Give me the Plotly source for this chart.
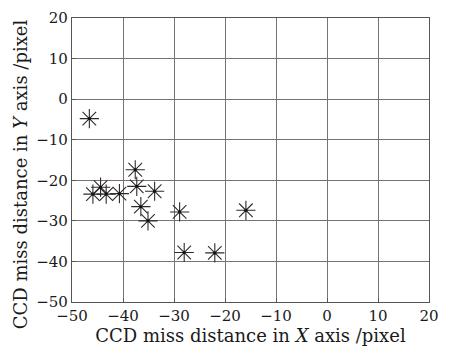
import plotly.graph_objects as go

x_vals = [-46.6, -45.9, -44.4, -43.3, -40.7, -37.6, -37.3, -36.5, -35.1, -33.8, -28.9, -28.0, -22.0, -15.9]
y_vals = [-4.8, -23.4, -21.7, -23.4, -23.3, -17.4, -21.5, -26.5, -30.0, -22.7, -27.8, -37.8, -37.9, -27.4]
tick_vals = [-50, -40, -30, -20, -10, 0, 10, 20]
tick_text = ["\u221250", "\u221240", "\u221230", "\u221220", "\u221210", "0", "10", "20"]
x_title = "CCD miss distance in <i>X</i> axis /pixel"
y_title = "CCD miss distance in <i>Y</i> axis /pixel"

font_family = "DejaVu Serif, Liberation Serif, serif"

fig = go.Figure()
fig.add_trace(go.Scatter(
    x=x_vals, y=y_vals, mode="markers",
    marker=dict(symbol="asterisk-open", size=16, color="#2e2a2a",
                line=dict(color="#2e2a2a", width=1.1)),
    showlegend=False, hoverinfo="x+y"))
fig.add_trace(go.Scatter(
    x=x_vals, y=y_vals, mode="markers",
    marker=dict(symbol="circle", size=3, color="#111111"),
    showlegend=False, hoverinfo="skip"))

axis_common = dict(
    range=[-50, 20], tickvals=tick_vals, ticktext=tick_text,
    showgrid=True, gridcolor="#7a7272", gridwidth=1.2,
    showline=True, linecolor="#5a5454", linewidth=1.2, mirror=True,
    ticks="inside", ticklen=4, tickcolor="#5a5454",
    zeroline=False, automargin=False, ticklabeloverflow="allow",
    tickfont=dict(family=font_family, size=15, color="#1a1a1a"),
)

fig.update_layout(
    width=455, height=353,
    margin=dict(l=64, r=34, t=10, b=59),
    paper_bgcolor="white", plot_bgcolor="white",
    xaxis=dict(**axis_common,
               title=dict(text=x_title,
                          font=dict(family=font_family, size=18, color="#1a1a1a"),
                          standoff=0)),
    yaxis=dict(**axis_common),
    annotations=[dict(
        text=y_title, textangle=-90, showarrow=False,
        xref="paper", yref="paper", x=0, y=0.45,
        xanchor="center", yanchor="middle", xshift=-52,
        font=dict(family=font_family, size=18, color="#1a1a1a"))],
)

fig.write_html("out.html")
